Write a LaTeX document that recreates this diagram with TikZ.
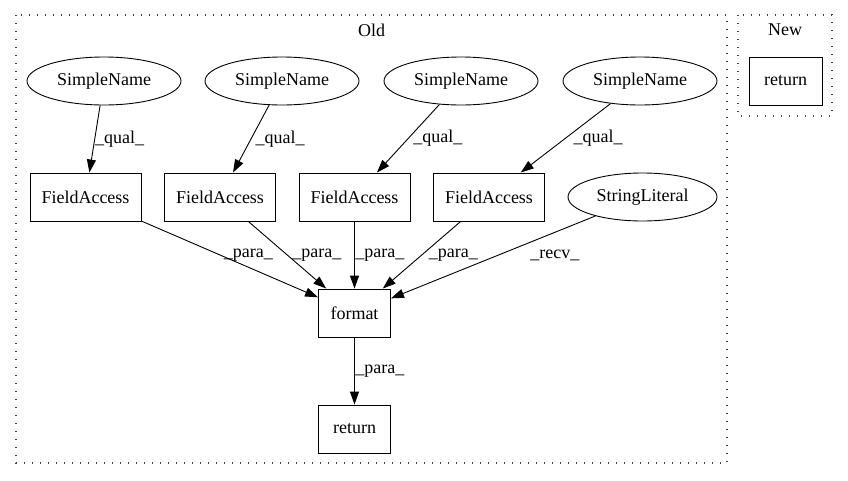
\documentclass[tikz,border=0pt]{standalone}
\usepackage{fontspec}
\setmainfont{Liberation Serif}
\usetikzlibrary{shapes,arrows.meta}
\tikzset{
  astnode/.style={
    % The shape:
    rectangle,
    % The size:
    minimum width=111pt,
    minimum height=48pt,
    inner sep=0pt,
    % The border:
    draw=black, line width=.9pt},
  astleaf/.style={
    % The shape:
    ellipse,
    minimum width=154pt,
    minimum height=48pt,
    inner sep=0pt,
    % The rest
    draw=black, line width=.9pt},
  cluster/.style={draw=black!75, line width=1.3pt, dash pattern=on 1.3pt off 6.7pt},
  edgelabel/.style={anchor=west, inner sep=0pt}
}

\begin{document}
\begin{tikzpicture}[x=1pt,y=-1pt,>={Triangle[length=13pt,width=9pt]},line width=.9pt,
                    every node/.style={font=\fontsize{18pt}{20pt}\selectfont}]

  \useasboundingbox (0,0) rectangle (848,480);

  % Clusters:
  \draw[cluster] (16,15) rectangle (727,463);
  \node (old) at (371.5,30) {Old};
  \draw[cluster] (738,15) rectangle (832,116);
  \node (new) at (785,30) {New};

  % First row:
  \node (sn1) [astleaf] at (104,81) {SimpleName};
  \node (sn2) [astleaf] at (282,81) {SimpleName};
  \node (sn3) [astleaf] at (461,81) {SimpleName};
  \node (sn4) [astleaf] at (640,81) {SimpleName};
  \node (newret) [astnode, minimum width=73pt] at (785.5,81) {return};
  % Second row:
  \node (fa1) [astnode] at (85.5,197)  {FieldAccess};
  \node (fa2) [astnode] at (220,197)   {FieldAccess};
  \node (fa3) [astnode] at (354.5,197) {FieldAccess};
  \node (fa4) [astnode] at (489,197)   {FieldAccess};
  \node (str) [astleaf, minimum width=149pt] at (642.5,197) {StringLiteral};
  % Third and fourth row:
  \node (format) [astnode, minimum width=72pt] at (354.5,313) {format};
  \node (ret)    [astnode, minimum width=72pt] at (354.5,429) {return};

  \draw[->] (sn1) -- node[edgelabel, pos=.5] {\_qual\_} (fa1);
  \draw[->] (sn2) -- node[edgelabel, pos=.5, xshift=4pt] {\_qual\_} (fa2);
  \draw[->] (sn3) -- node[edgelabel, pos=.5, xshift=4.8pt] {\_qual\_} (fa3);
  \draw[->] (sn4) -- node[edgelabel, pos=.5, xshift=7.4pt] {\_qual\_} (fa4);

  \draw[->] (fa1) -- node[edgelabel, pos=.444, xshift=3.6pt] {\_para\_} (format);
  \draw[->] (fa2) -- node[edgelabel, pos=.5, xshift=4.6pt] {\_para\_} (format);
  \draw[->] (fa3) -- node[edgelabel, pos=.5, xshift=.5pt] {\_para\_} (format);
  \draw[->] (fa4) -- node[edgelabel, pos=.5, xshift=6.8pt] {\_para\_} (format);
  \draw[->] (str) -- node[edgelabel, pos=.475, xshift=31.6pt] {\_recv\_} (format);
  \draw[->] (format) -- node[edgelabel, pos=.5, xshift=.5pt] {\_para\_} (ret);

\end{tikzpicture}
\end{document}
